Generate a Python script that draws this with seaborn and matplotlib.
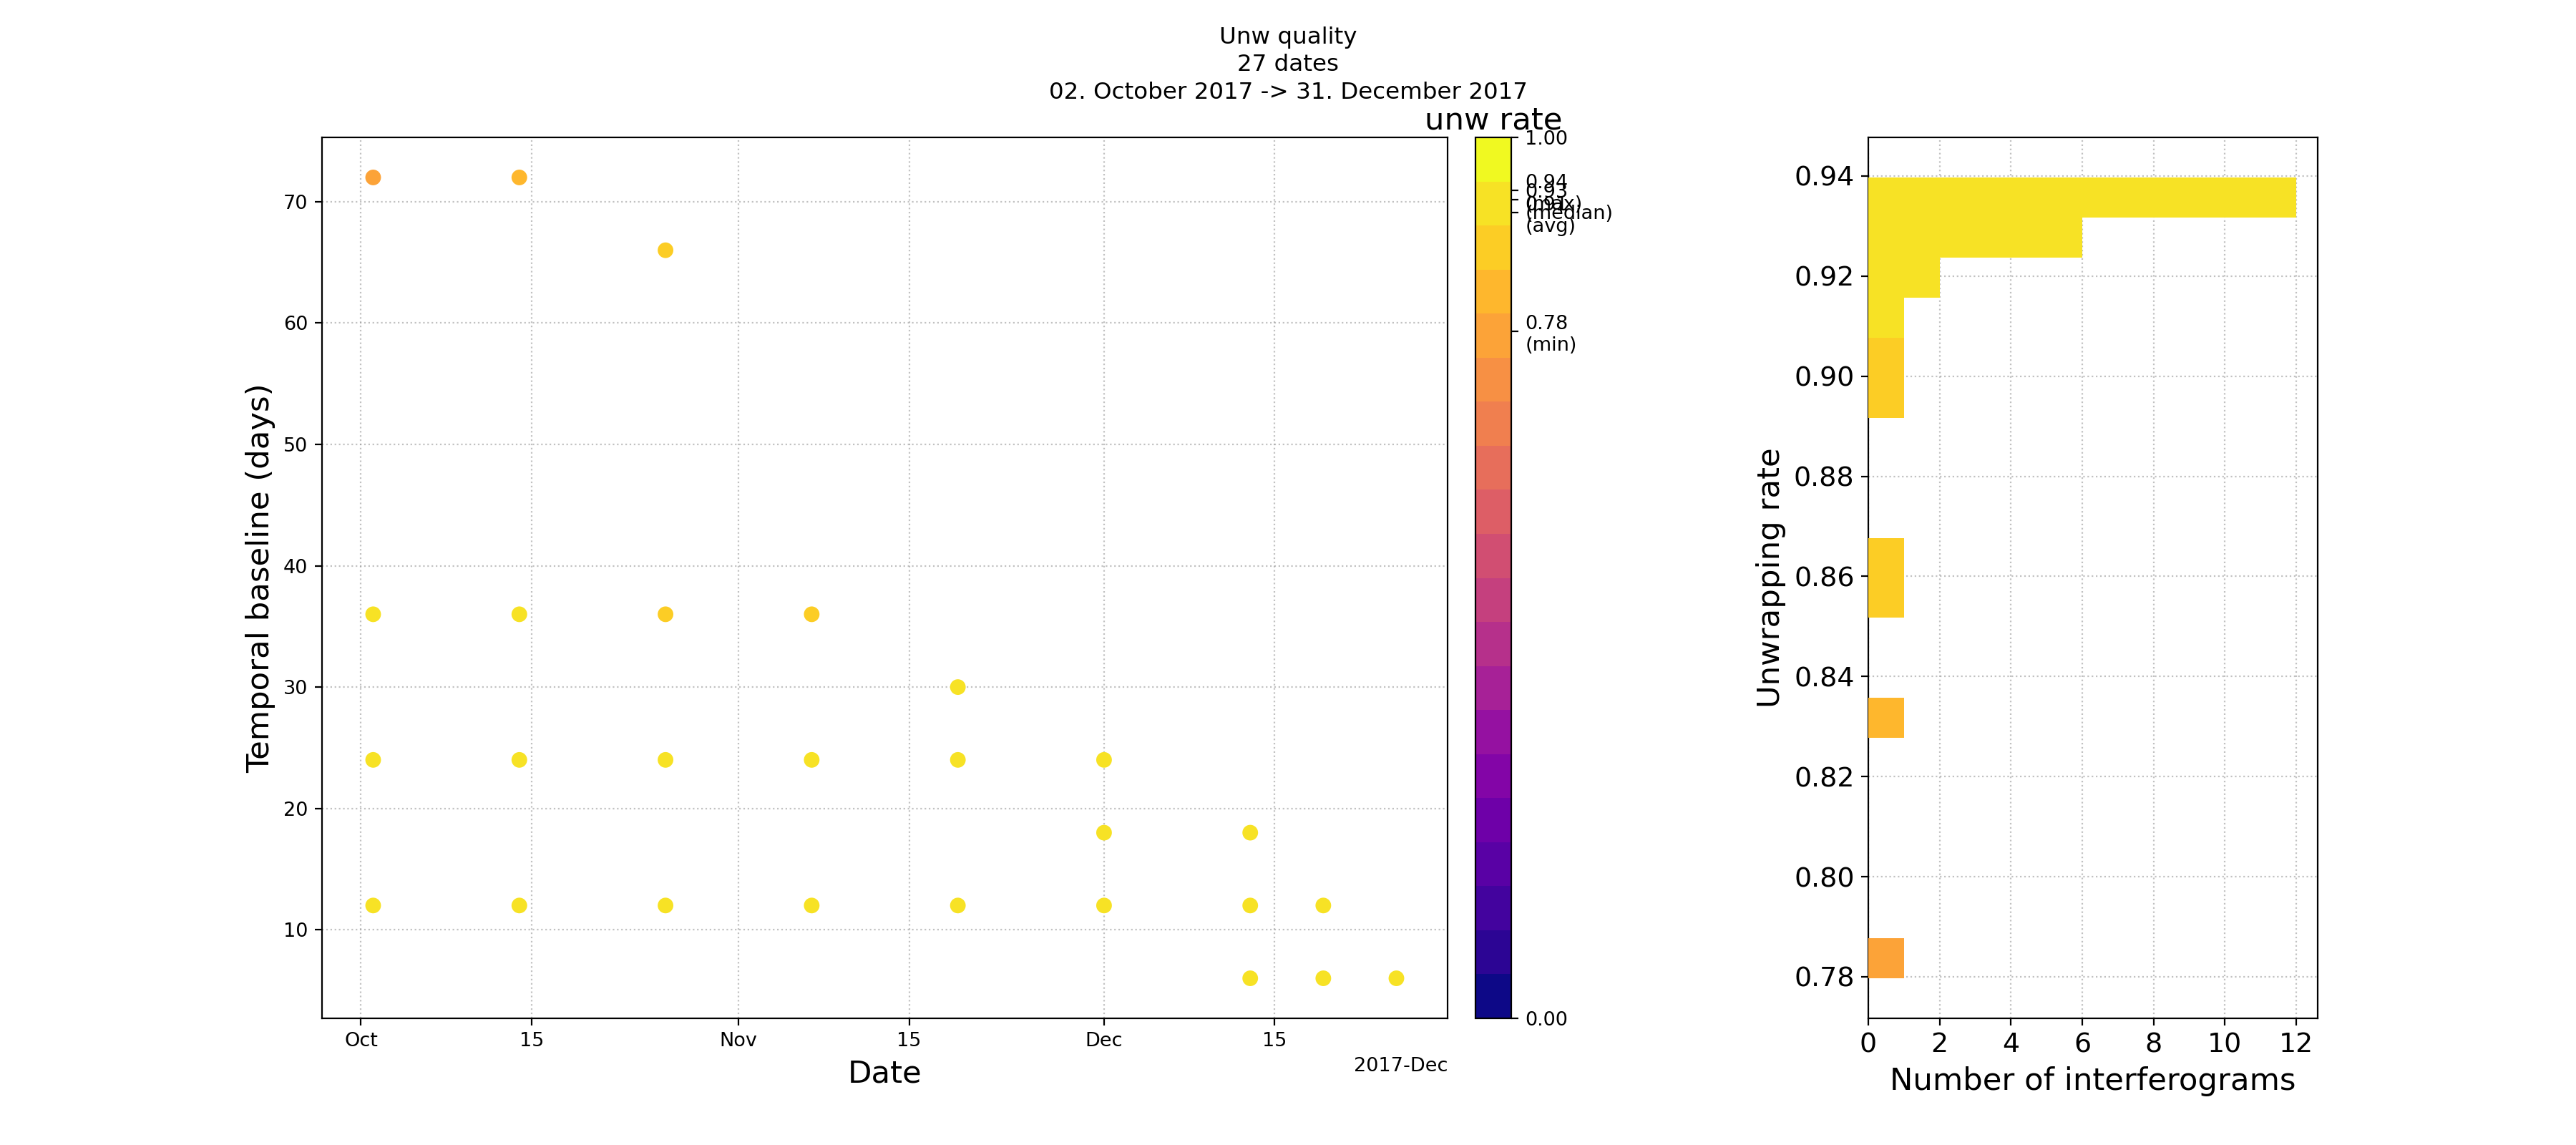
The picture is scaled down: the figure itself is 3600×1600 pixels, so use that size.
import numpy as np
import pandas as pd
import matplotlib
matplotlib.use("Agg")
import matplotlib.pyplot as plt
import matplotlib.dates as mdates
from matplotlib.ticker import MultipleLocator
import seaborn as sns

# ---- data ----
ref_dates = [
    "2017-10-02", "2017-10-02", "2017-10-02", "2017-10-02",
    "2017-10-14", "2017-10-14", "2017-10-14", "2017-10-14",
    "2017-10-26", "2017-10-26", "2017-10-26", "2017-10-26",
    "2017-11-07", "2017-11-07", "2017-11-07",
    "2017-11-19", "2017-11-19", "2017-11-19",
    "2017-12-01", "2017-12-01", "2017-12-01",
    "2017-12-13", "2017-12-13", "2017-12-13",
    "2017-12-19", "2017-12-19",
    "2017-12-25",
]
baselines = [
    72, 36, 24, 12,
    72, 36, 24, 12,
    66, 36, 24, 12,
    36, 24, 12,
    30, 24, 12,
    24, 18, 12,
    18, 12, 6,
    12, 6,
    6,
]
unw_rates = [
    0.7797, 0.912, 0.933, 0.937,
    0.832, 0.904, 0.935, 0.938,
    0.856, 0.864, 0.928, 0.936,
    0.896, 0.927, 0.9397,
    0.919, 0.924, 0.935,
    0.921, 0.926, 0.938,
    0.929, 0.934, 0.936,
    0.931, 0.937,
    0.939,
]
title_text = "Unw quality\n27 dates\n02. October 2017 -> 31. December 2017"

df = pd.DataFrame({"date": pd.to_datetime(ref_dates),
                   "bt": baselines,
                   "rate": unw_rates})

cmap = plt.get_cmap("plasma", 20)
norm = matplotlib.colors.Normalize(vmin=0, vmax=1)

W, H = 3600, 1600
fig = plt.figure(figsize=(18, 8), dpi=200)


def box(x0, x1, y0, y1):
    return [x0 / W, 1 - y1 / H, (x1 - x0) / W, (y1 - y0) / H]


ax1 = fig.add_axes(box(450, 2023, 192, 1423))
cax = fig.add_axes(box(2062, 2112, 192, 1423))
ax2 = fig.add_axes(box(2611, 3239, 192, 1423))

TICK_L = 9.75
TICK_R = 13.65
LAB = 15.6

# ---- scatter ----
sns.scatterplot(data=df, x="date", y="bt", hue="rate", palette=cmap,
                hue_norm=norm, s=62, linewidth=0, legend=False, ax=ax1,
                zorder=3)
loc = mdates.DayLocator(bymonthday=[1, 15])
ax1.xaxis.set_major_locator(loc)
fmt = mdates.ConciseDateFormatter(loc)
ax1.xaxis.set_major_formatter(fmt)
ax1.tick_params(labelsize=TICK_L)
ax1.xaxis.get_offset_text().set_fontsize(TICK_L)
ax1.set_xlabel("Date", fontsize=LAB)
ax1.set_ylabel("Temporal baseline (days)", fontsize=LAB)
ax1.grid(True, linestyle=":", color="0.6", alpha=0.6, linewidth=0.8)
ax1.set_axisbelow(True)

# ---- colorbar ----
rates = np.array(unw_rates)
mn, mx = rates.min(), rates.max()
avg, med = rates.mean(), np.median(rates)
sm = matplotlib.cm.ScalarMappable(norm=norm, cmap=cmap)
cb = fig.colorbar(sm, cax=cax)
cb.set_ticks([0, mn, avg, med, mx, 1])
cb.set_ticklabels(["0.00", f"{mn:.2f}\n(min)", f"{avg:.2f}\n(avg)",
                   f"{med:.2f}\n(median)", f"{mx:.2f}\n(max)", "1.00"])
cax.tick_params(labelsize=TICK_L)
cax.set_title("unw rate", fontsize=LAB, pad=4)

# ---- histogram ----
sns.histplot(data=df, y="rate", bins=20, ax=ax2, alpha=1, linewidth=0,
             zorder=3)
for p in ax2.patches:
    p.set_facecolor(cmap(norm(p.get_y())))
ax2.xaxis.set_major_locator(MultipleLocator(2))
ax2.grid(True, linestyle=":", color="0.6", alpha=0.6, linewidth=0.8)
ax2.set_axisbelow(True)
ax2.tick_params(labelsize=TICK_R)
ax2.set_xlabel("Number of interferograms", fontsize=LAB)
ax2.set_ylabel("Unwrapping rate", fontsize=LAB)

fig.suptitle(title_text, fontsize=11.7, y=0.977, linespacing=1.32)

fig.savefig("out.png", dpi=200)
